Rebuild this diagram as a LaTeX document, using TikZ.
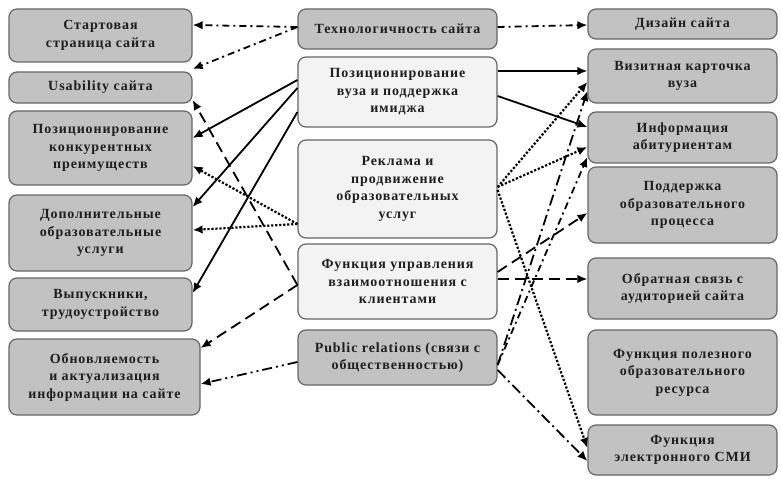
\documentclass[tikz,border=0pt]{standalone}
\usepackage{fontspec}
\setmainfont[LetterSpace=6.5]{Liberation Serif}
\usetikzlibrary{arrows.meta}
\definecolor{boxgray}{HTML}{C2C2C2}
\definecolor{boxlight}{HTML}{F3F3F3}
\definecolor{boxline}{HTML}{666666}
\definecolor{txt}{HTML}{1E1E1E}
\begin{document}
\begin{tikzpicture}[x=1pt,y=-1pt,
  box/.style={draw=boxline, line width=1.2pt, rounded corners=8pt, fill=boxgray,
    inner sep=0pt, align=center, text=txt,
    font=\fontsize{14}{17.5}\selectfont\bfseries},
  lightbox/.style={box, fill=boxlight},
  conn/.style={line width=1.8pt, -{Latex[length=10pt,width=8.5pt]}},
  solidc/.style={conn},
  dotc/.style={conn, line width=2.2pt, dash pattern=on 2.2pt off 1.8pt},
  dashc/.style={conn, dash pattern=on 11pt off 6pt},
  dashdotc/.style={conn, dash pattern=on 7pt off 4pt on 2pt off 4pt},
  longdashdotc/.style={conn, dash pattern=on 11pt off 4pt on 2pt off 4pt},
  dashdotdotc/.style={conn, dash pattern=on 10pt off 4pt on 2pt off 4pt on 2pt off 4pt}
]
\useasboundingbox (0,0) rectangle (781,481);

% left column
\node[box, minimum width=183pt, minimum height=53pt] (L1) at (100.5,35.5) {Стартовая\\страница сайта};
\node[box, minimum width=183pt, minimum height=31pt] (L2) at (100.5,87.5) {Usability сайта};
\node[box, minimum width=183pt, minimum height=74pt] (L3) at (100.5,148) {Позиционирование\\конкурентных\\преимуществ};
\node[box, minimum width=183pt, minimum height=76pt] (L4) at (100.5,233) {Дополнительные\\образовательные\\услуги};
\node[box, minimum width=183pt, minimum height=53pt] (L5) at (100.5,304.5) {Выпускники,\\трудоустройство};
\node[box, minimum width=191pt, minimum height=76pt] (L6) at (104.5,377) {Обновляемость\\и актуализация\\информации на сайте};

% middle column
\node[box, minimum width=199pt, minimum height=40pt] (M1) at (397.5,29) {Технологичность сайта};
\node[lightbox, minimum width=199pt, minimum height=70pt] (M2) at (397.5,92) {Позиционирование\\вуза и поддержка\\имиджа};
\node[lightbox, minimum width=199pt, minimum height=98pt] (M3) at (397.5,189) {Реклама и\\продвижение\\образовательных\\услуг};
\node[lightbox, minimum width=199pt, minimum height=75pt] (M4) at (397.5,281.5) {Функция управления\\взаимоотношения с\\клиентами};
\node[box, minimum width=199pt, minimum height=55pt] (M5) at (397.5,357.5) {Public relations (связи с\\общественностью)};

% right column
\node[box, minimum width=189pt, minimum height=30pt] (R1) at (682.5,24) {Дизайн сайта};
\node[box, minimum width=189pt, minimum height=54pt] (R2) at (682.5,76) {Визитная карточка\\вуза};
\node[box, minimum width=189pt, minimum height=51pt] (R3) at (682.5,137.5) {Информация\\абитуриентам};
\node[box, minimum width=189pt, minimum height=76pt] (R4) at (682.5,205) {Поддержка\\образовательного\\процесса};
\node[box, minimum width=189pt, minimum height=61pt] (R5) at (682.5,288.5) {Обратная связь с\\аудиторией сайта};
\node[box, minimum width=189pt, minimum height=85pt] (R6) at (682.5,372.5) {Функция полезного\\образовательного\\ресурса};
\node[box, minimum width=189pt, minimum height=50pt] (R7) at (682.5,450) {Функция\\электронного СМИ};

% Технологичность сайта
\draw[dashdotc] (M1.west |- 0,27) -- (L1.east |- 0,25);
\draw[dashdotc] (M1.west |- 0,27) -- (L2.east |- 0,69);
\draw[dashdotc] (M1.east |- 0,27) -- (R1.west |- 0,25);

% Позиционирование вуза
\draw[solidc] (M2.east |- 0,71) -- (R2.west |- 0,71);
\draw[solidc] (M2.east |- 0,96) -- (R3.west |- 0,127);
\draw[solidc] (M2.west |- 0,80) -- (L3.east |- 0,138);
\draw[solidc] (M2.west |- 0,88) -- (L4.east |- 0,207);
\draw[solidc] (M2.west |- 0,112) -- (L5.east |- 0,293);

% Реклама
\draw[dotc] (M3.west |- 0,224) -- (L3.east |- 0,166);
\draw[dotc] (M3.west |- 0,224) -- (L4.east |- 0,230);
\draw[dotc] (M3.east |- 0,187) -- (R2.west |- 0,82);
\draw[dotc] (M3.east |- 0,187) -- (R3.west |- 0,147);
\draw[dotc] (M3.east |- 0,190) -- (R7.west |- 0,448);

% Функция управления
\draw[dashc] (M4.west |- 0,285) -- (L2.east |- 0,100);
\draw[dashc] (M4.west |- 0,285) -- (L6.east |- 0,348);
\draw[dashc] (M4.east |- 0,279) -- (R5.west |- 0,279);
\draw[dashc] (M4.east |- 0,272) -- (R4.west |- 0,213);

% Public relations
\draw[dashdotdotc] (M5.west |- 0,362) -- (L6.east |- 0,384);
\draw[longdashdotc] (M5.east |- 0,370) -- (R7.west |- 0,461);
\draw[longdashdotc] (M5.east |- 0,365) -- (R2.west |- 0,91);
\draw[dashdotc] (M5.east |- 0,365) -- (R3.west |- 0,157);
\end{tikzpicture}
\end{document}
